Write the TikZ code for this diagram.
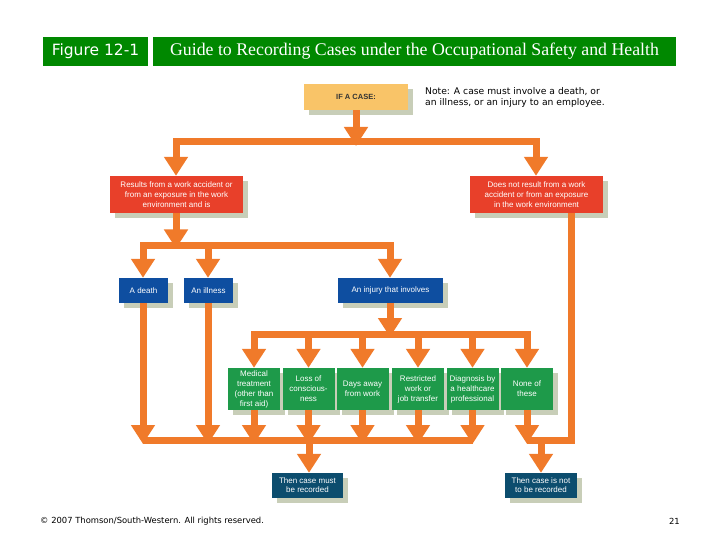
\documentclass[tikz,border=0pt]{standalone}
\usepackage{fontspec}
\setmainfont{Liberation Sans}
\newfontfamily\serifx{Liberation Serif}
\newfontfamily\dejavu{DejaVu Sans}
\usetikzlibrary{arrows.meta,shadows}
\definecolor{titlegreen}{RGB}{0,136,0}
\definecolor{ifcol}{RGB}{249,196,104}
\definecolor{shadowc}{RGB}{200,206,184}
\definecolor{redc}{RGB}{232,64,42}
\definecolor{bluec}{RGB}{14,78,160}
\definecolor{greenc}{RGB}{30,154,74}
\definecolor{tealc}{RGB}{12,77,110}
\definecolor{arrc}{RGB}{240,122,42}
\begin{document}
\begin{tikzpicture}[x=1pt,y=-1pt,
  box/.style={rectangle, inner sep=1pt, align=center, text=white,
    font=\fontsize{8}{9.7}\selectfont,
    drop shadow={opacity=1, fill=shadowc, shadow xshift=5pt, shadow yshift=-5pt}},
  tbox/.style={rectangle, inner sep=0pt, fill=titlegreen, text=white, minimum height=29pt},
  redbox/.style={box, fill=redc, minimum width=133pt, minimum height=37pt},
  bluebox/.style={box, fill=bluec, minimum height=25pt},
  greenbox/.style={box, fill=greenc, minimum width=52pt, minimum height=42pt, font=\fontsize{8}{10}\selectfont},
  tealbox/.style={box, fill=tealc, minimum height=25pt, font=\fontsize{8}{9}\selectfont},
  arr/.style={draw=arrc, line width=7pt, -{Triangle[width=23pt,length=19pt]}},
  bar/.style={draw=arrc, line width=7pt, line cap=rect},
  barb/.style={draw=arrc, line width=7pt, line cap=butt}
]
\useasboundingbox[fill=white] (0,0) rectangle (720,540);

% title
\node[tbox, minimum width=105pt, font=\dejavu\fontsize{15.5}{17}\selectfont] (fig) at (95.5,51.5) {Figure 12-1};
\node[tbox, minimum width=523pt, font=\serifx\fontsize{17.8}{19}\selectfont] (title) at (414.5,51.5) {Guide to Recording Cases under the Occupational Safety and Health};

% boxes
\node[box, fill=ifcol, text=black!80, minimum width=104pt, minimum height=26pt, font=\bfseries\fontsize{7.5}{9}\selectfont] (ifcase) at (356,97) {IF A CASE:};
\node[anchor=west, align=left, inner sep=0pt, font=\dejavu\fontsize{9.2}{10.8}\selectfont] (note) at (425,97.5) {Note: A case must involve a death, or\\an illness, or an injury to an employee.};

\node[redbox] (red1) at (176.5,194.5) {Results from a work accident or\\from an exposure in the work\\environment and is};
\node[redbox] (red2) at (536.5,194.5) {Does not result from a work\\accident or from an exposure\\in the work environment};

\node[bluebox, minimum width=49pt] (death) at (143.5,290.5) {A death};
\node[bluebox, minimum width=49pt] (illness) at (208.5,290.5) {An illness};
\node[bluebox, minimum width=105pt] (injury) at (390.5,290.5) {An injury that involves};

\node[greenbox] (g1) at (254,389) {Medical\\treatment\\(other than\\first aid)};
\node[greenbox] (g2) at (308.5,389) {Loss of\\conscious-\\ness};
\node[greenbox] (g3) at (362.5,389) {Days away\\from work};
\node[greenbox] (g4) at (418,389) {Restricted\\work or\\job transfer};
\node[greenbox] (g5) at (472.5,389) {Diagnosis by\\a healthcare\\professional};
\node[greenbox] (g6) at (527,389) {None of\\these};

\node[tealbox, minimum width=71pt] (rec1) at (307.5,485.5) {Then case must\\be recorded};
\node[tealbox, minimum width=72pt] (rec2) at (541,485.5) {Then case is not\\to be recorded};

% junction coordinates
\coordinate (j1) at (356,142);
\coordinate (j1L) at (176,142);
\coordinate (j1R) at (536,142);
\coordinate (j2) at (176,245);
\coordinate (j2a) at (143,245);
\coordinate (j2b) at (208,245);
\coordinate (j2c) at (390,245);
\coordinate (j3) at (390,334);
\coordinate (j3L) at (254,334);
\coordinate (j3R) at (527,334);
\coordinate (j4L) at (143,440);
\coordinate (j4R) at (473,440);
\coordinate (j4m) at (309,440);
\coordinate (rline) at (571,440);
\coordinate (j5L) at (527,440);
\coordinate (j5m) at (541,440);

% level 1
\draw[arr] (ifcase.south) -- ([yshift=-4pt]j1);
\draw[bar] (j1L) -- (j1R);
\draw[arr] (j1L) -- (red1.north -| j1L);
\draw[arr] (j1R) -- (red2.north -| j1R);

% level 2
\draw[arr] (red1.south -| j2) -- ([yshift=-3.5pt]j2);
\draw[bar] (j2a) -- (j2c);
\draw[arr] (j2a) -- (death.north -| j2a);
\draw[arr] (j2b) -- (illness.north -| j2b);
\draw[arr] (j2c) -- (injury.north -| j2c);

% level 3
\draw[arr] (injury.south -| j3) -- ([yshift=-3pt]j3);
\draw[bar] (j3L) -- (j3R);
\foreach \g in {g1,g2,g3,g4,g5,g6}
  \draw[arr] (j3L -| \g) -- (\g.north);

% level 4
\draw[arr] (death.south -| j4L) -- ([yshift=-4pt]j4L);
\draw[arr] (illness.south -| j2b) -- ([yshift=-4pt]j4L -| j2b);
\foreach \g in {g1,g2,g3,g4,g5,g6}
  \draw[arr] (\g.south) -- ([yshift=-4pt]j4L -| \g);
\draw[barb] (j4L) -- (j4R);
\draw[arr] (j4m) -- (rec1.north -| j4m);

% right side
\draw[barb, line join=miter] (red2.south -| rline) |- (j5L);
\draw[arr] (j5m) -- (rec2.north -| j5m);

% footer
\node[anchor=west, inner sep=0pt, font=\dejavu\fontsize{8.4}{9}\selectfont] (copy) at (40,521) {© 2007 Thomson/South-Western. All rights reserved.};
\node[anchor=east, inner sep=0pt, font=\dejavu\fontsize{8.4}{9}\selectfont] (page) at (680,521) {21};
\end{tikzpicture}
\end{document}
